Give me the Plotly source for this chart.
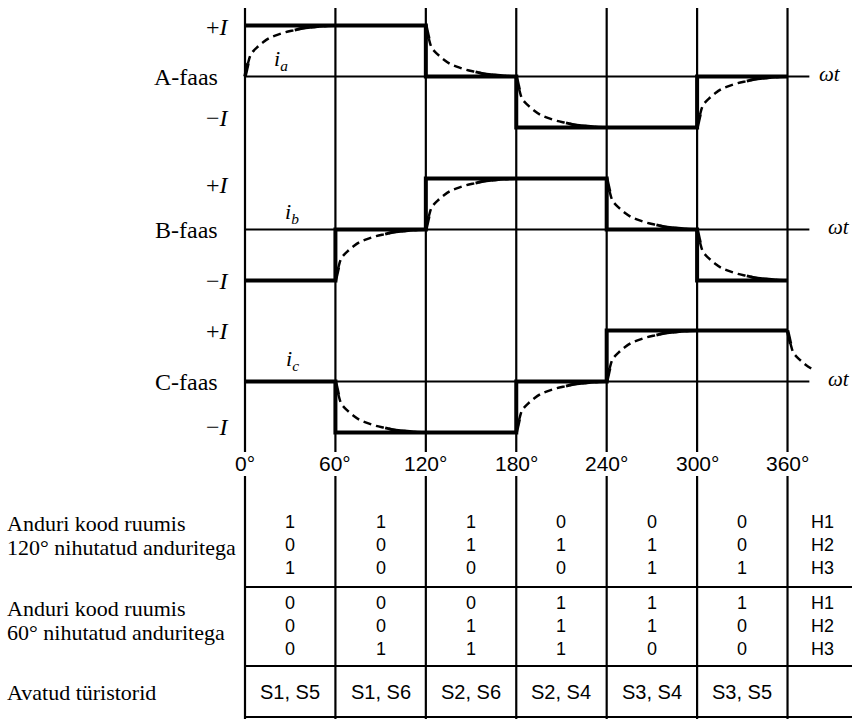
import plotly.graph_objects as go

# ---------------------------------------------------------------- data
ANGLES = [0, 60, 120, 180, 240, 300, 360]
TICK_LABELS = ["0°", "60°", "120°", "180°", "240°", "300°", "360°"]

PHASES = ["A", "B", "C"]
PHASE_NAMES = ["A-faas", "B-faas", "C-faas"]
CURRENT_NAMES = ["<i>i<sub>a</sub></i>", "<i>i<sub>b</sub></i>", "<i>i<sub>c</sub></i>"]

# ideal phase current in each 60° sector, in units of I
PHASE_A = [1, 1, 0, -1, -1, 0]
PHASE_B = [-1, 0, 1, 1, 0, -1]
PHASE_C = [0, -1, -1, 0, 1, 1]
LEVELS = [PHASE_A, PHASE_B, PHASE_C]
START_CURRENT = [0, -1, 0]      # actual current just before 0°
NEXT_LEVEL = [0, -1, 0]         # current commanded just after 360°
LAST_TRANSIENT_END = 377        # how far the final transient is drawn (deg)

# commutation transient: remaining fraction of the step vs. angle after the switch
TRANSIENT_DEG = [0, 2, 4, 8, 12, 16, 20, 27, 33, 38, 45, 52, 60]
TRANSIENT_LEFT = [1.0, 0.74, 0.56, 0.43, 0.33, 0.25, 0.2, 0.13, 0.09, 0.055, 0.03, 0.01, 0.0]

# hall sensor codes per sector
H1_120 = [1, 1, 1, 0, 0, 0]
H2_120 = [0, 0, 1, 1, 1, 0]
H3_120 = [1, 0, 0, 0, 1, 1]
H1_60 = [0, 0, 0, 1, 1, 1]
H2_60 = [0, 0, 1, 1, 1, 0]
H3_60 = [0, 1, 1, 1, 0, 0]
THYRISTORS = ["S1, S5", "S1, S6", "S2, S6", "S2, S4", "S3, S4", "S3, S5"]
SENSOR_NAMES = ["H1", "H2", "H3"]
ROW_LABELS = [
    ["Anduri kood ruumis", "120° nihutatud anduritega"],
    ["Anduri kood ruumis", "60° nihutatud anduritega"],
    ["Avatud türistorid"],
]

# ---------------------------------------------------------------- layout geometry
W, H = 852, 719
X0_PX, DEG_PX = 245.0, 1.507            # pixel of 0° and pixels per degree
XMIN = -X0_PX / DEG_PX
XMAX = XMIN + W / DEG_PX
ZERO_PX = [76.5, 229.5, 381.5]          # zero line of each phase
UNIT_PX = 51.0                          # pixels per I
HALF = 1.4                              # half range of each phase axis

SERIF = "Liberation Serif"
SANS = "Liberation Sans"
INK = "black"


def deg_of_px(px):
    return (px - X0_PX) / DEG_PX


fig = go.Figure()

# phase axes (y, y2, y3) and a pixel-row axis (y4) for the grid and the table
axis_names = ["yaxis", "yaxis2", "yaxis3"]
trace_axes = ["y", "y2", "y3"]
for name, z in zip(axis_names, ZERO_PX):
    top = z - HALF * UNIT_PX
    bot = z + HALF * UNIT_PX
    fig.layout[name] = dict(domain=[1 - bot / H, 1 - top / H], range=[-HALF, HALF],
                            visible=False, anchor="x", fixedrange=True)
fig.layout["yaxis4"] = dict(domain=[0, 1], range=[H, 0], visible=False, anchor="x",
                            fixedrange=True)

# ---------------------------------------------------------------- currents
for k, lv in enumerate(LEVELS):
    ya = trace_axes[k]
    # ideal square wave
    fig.add_trace(go.Scatter(x=ANGLES, y=lv + [lv[-1]], mode="lines", line_shape="hv",
                             line=dict(color=INK, width=4), yaxis=ya, hoverinfo="skip"))
    # actual current with its transients after every switching instant
    prev = START_CURRENT[k]
    targets = lv + [NEXT_LEVEL[k]]
    for s, target in enumerate(targets):
        t0 = ANGLES[s] if s < len(ANGLES) else 360
        if target != prev:
            step = prev - target
            xs, ys = [], []
            for d, f in zip(TRANSIENT_DEG, TRANSIENT_LEFT):
                if s == len(lv) and t0 + d > LAST_TRANSIENT_END:
                    break
                xs.append(t0 + d)
                ys.append(target + step * f)
            # dashed body
            fig.add_trace(go.Scatter(x=xs, y=ys, mode="lines", line_shape="spline",
                                     line=dict(color=INK, width=2.5, dash="8px,5px"),
                                     yaxis=ya, hoverinfo="skip"))
            # solid start where the trace leaves the switching edge
            head = [i for i, d in enumerate(TRANSIENT_DEG) if d <= 2 and i < len(xs)]
            fig.add_trace(go.Scatter(x=[xs[i] for i in head], y=[ys[i] for i in head],
                                     mode="lines", line=dict(color=INK, width=3.5),
                                     yaxis=ya, hoverinfo="skip"))
            # solid tail where it merges into the square wave
            tail = [i for i, d in enumerate(TRANSIENT_DEG) if d >= 33 and i < len(xs)]
            if tail:
                fig.add_trace(go.Scatter(x=[xs[i] for i in tail], y=[ys[i] for i in tail],
                                         mode="lines", line_shape="spline",
                                         line=dict(color=INK, width=3), yaxis=ya,
                                         hoverinfo="skip"))
        prev = target

# ---------------------------------------------------------------- grid lines
shapes = []
ZERO_END = 374.5
for k in range(3):
    shapes.append(dict(type="line", xref="x", yref=trace_axes[k], x0=0, x1=ZERO_END,
                       y0=0, y1=0, line=dict(color=INK, width=2), layer="below"))
for a in ANGLES:
    shapes.append(dict(type="line", xref="x", yref="y4", x0=a, x1=a, y0=8, y1=452,
                       line=dict(color=INK, width=2.2), layer="below"))
    shapes.append(dict(type="line", xref="x", yref="y4", x0=a, x1=a, y0=476, y1=H,
                       line=dict(color=INK, width=2.2), layer="below"))
TABLE_RULES = [587, 666, 717]
for r in TABLE_RULES:
    shapes.append(dict(type="line", xref="x", yref="y4", x0=0, x1=XMAX, y0=r, y1=r,
                       line=dict(color=INK, width=2.2), layer="below"))

# ---------------------------------------------------------------- table contents
ann = []
centers = [(ANGLES[i] + ANGLES[i + 1]) / 2 for i in range(6)]
code_rows = [(H1_120, 522), (H2_120, 545), (H3_120, 568),
             (H1_60, 603), (H2_60, 626), (H3_60, 649)]
for vals, row in code_rows:
    for cx, v in zip(centers, vals):
        ann.append(dict(x=cx, y=row, xref="x", yref="y4", text=str(v), showarrow=False,
                        xanchor="center", yanchor="middle",
                        font=dict(family=SANS, size=18, color=INK)))
for cx, s in zip(centers, THYRISTORS):
    ann.append(dict(x=cx, y=692, xref="x", yref="y4", text=s, showarrow=False,
                    xanchor="center", yanchor="middle",
                    font=dict(family=SANS, size=20, color=INK)))
H_COL = deg_of_px(822)
for rows in ([522, 545, 568], [603, 626, 649]):
    for row, s in zip(rows, SENSOR_NAMES):
        ann.append(dict(x=H_COL, y=row, xref="x", yref="y4", text=s, showarrow=False,
                        xanchor="center", yanchor="middle",
                        font=dict(family=SANS, size=18, color=INK)))

LEFT = deg_of_px(5)
for lines, rows in zip(ROW_LABELS, ([523, 547], [608, 632], [692])):
    for txt, row in zip(lines, rows):
        ann.append(dict(x=LEFT, y=row, xref="x", yref="y4", text=txt, showarrow=False,
                        xanchor="left", yanchor="middle",
                        font=dict(family=SERIF, size=22, color=INK)))

# angle ticks
for a, lab in zip(ANGLES, TICK_LABELS):
    ann.append(dict(x=a, y=463, xref="x", yref="y4", text=lab, showarrow=False,
                    xanchor="center", yanchor="middle",
                    font=dict(family=SANS, size=21, color=INK)))

# phase labels
PLUS_Y = [0.97, 0.88, 1.0]
MINUS_Y = [-0.82, -1.0, -0.9]
WT_X = [deg_of_px(817), deg_of_px(826), deg_of_px(826)]
NAME_Y = [0.32, 0.33, 0.42]
NAME_X = [deg_of_px(281), deg_of_px(292), deg_of_px(292)]
for k in range(3):
    ya = trace_axes[k]
    common = dict(xref="x", yref=ya, showarrow=False, yanchor="middle")
    ann.append(dict(x=deg_of_px(231), y=PLUS_Y[k], text="+<i>I</i>", xanchor="right",
                    font=dict(family=SERIF, size=24, color=INK), **common))
    ann.append(dict(x=deg_of_px(231), y=MINUS_Y[k], text="\u2212<i>I</i>", xanchor="right",
                    font=dict(family=SERIF, size=24, color=INK), **common))
    ann.append(dict(x=deg_of_px(220), y=0.0, text=PHASE_NAMES[k], xanchor="right",
                    font=dict(family=SERIF, size=24, color=INK), **common))
    ann.append(dict(x=WT_X[k], y=0.05, text="<i>ωt</i>", xanchor="left",
                    font=dict(family=SERIF, size=21, color=INK), **common))
    ann.append(dict(x=NAME_X[k], y=NAME_Y[k], text=CURRENT_NAMES[k], xanchor="center",
                    font=dict(family=SERIF, size=22, color=INK), **common))

fig.update_layout(
    width=W, height=H,
    margin=dict(l=0, r=0, t=0, b=0),
    paper_bgcolor="white", plot_bgcolor="rgba(0,0,0,0)",
    showlegend=False,
    xaxis=dict(range=[XMIN, XMAX], visible=False, fixedrange=True, anchor="y4"),
    shapes=shapes, annotations=ann,
)

fig.write_html("out.html")
